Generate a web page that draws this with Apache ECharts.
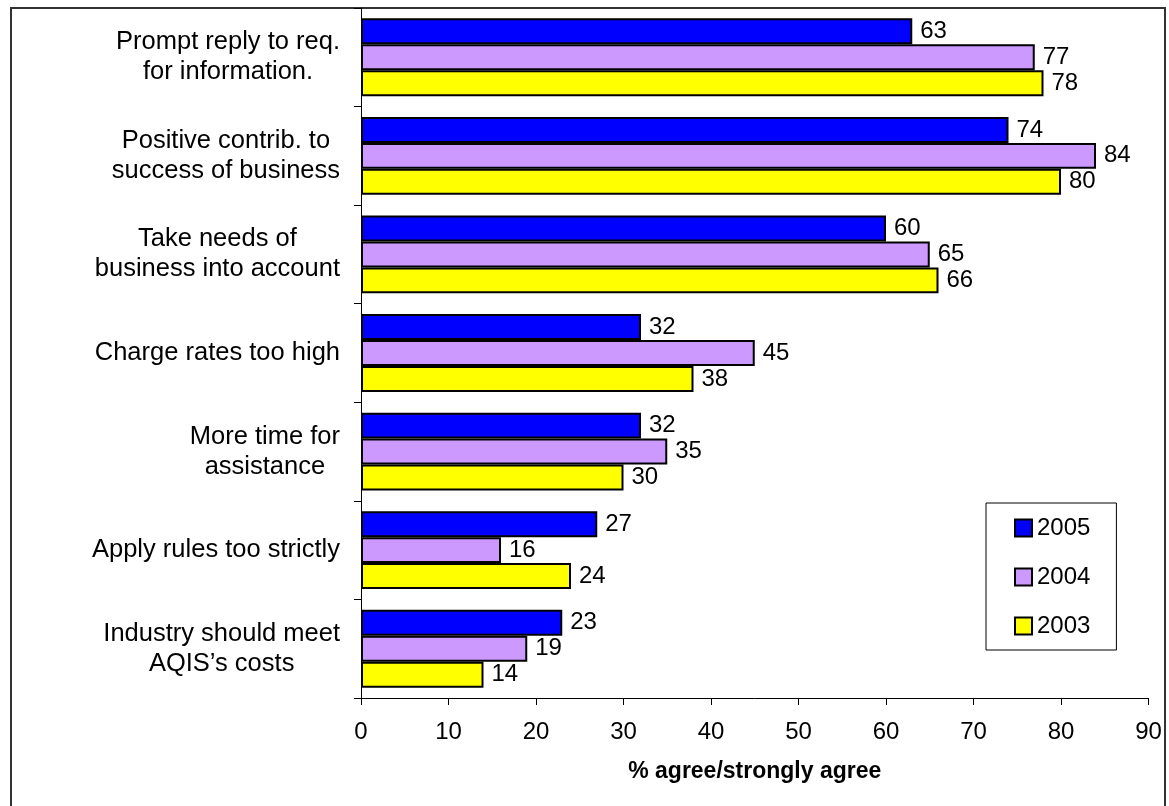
<!DOCTYPE html>
<html>
<head>
<meta charset="utf-8">
<script src="https://cdn.jsdelivr.net/npm/echarts@6/dist/echarts.min.js"></script>
<style>
  html, body { margin: 0; padding: 0; background: #fff; }
  #chart { width: 1169px; height: 806px; }
</style>
</head>
<body>
<div id="chart"></div>
<script>
// Survey statements (top to bottom) and the share agreeing each year
const categories = [
  'Prompt reply to req.\nfor information.',
  'Positive contrib. to\nsuccess of business',
  'Take needs of\nbusiness into account',
  'Charge rates too high',
  'More time for\nassistance',
  'Apply rules too strictly',
  'Industry should meet\nAQIS\u2019s costs'
];
const years = ['2005', '2004', '2003'];
const values2005 = [63, 74, 60, 32, 32, 27, 23];
const values2004 = [77, 84, 65, 45, 35, 16, 19];
const values2003 = [78, 80, 66, 38, 30, 24, 14];
const xTicks = { min: 0, max: 90, interval: 10 };
const xTitle = '% agree/strongly agree';

const colors = ['#0000FF', '#CC99FF', '#FFFF00'];
const seriesValues = [values2005, values2004, values2003];
const FONT = '"Liberation Sans", Arial, sans-serif';

const chart = echarts.init(document.getElementById('chart'), null, { renderer: 'canvas' });

const series = years.map((y, i) => ({
  name: y,
  type: 'bar',
  data: seriesValues[i],
  barGap: '0%',
  barCategoryGap: '21%',
  itemStyle: { color: colors[i], borderColor: '#000', borderWidth: 2 },
  label: {
    show: true,
    position: 'right',
    distance: 8,
    color: '#000',
    fontFamily: FONT,
    fontSize: 24,
    formatter: '{c}'
  },
  emphasis: { disabled: true }
}));

chart.setOption({
  animation: false,
  backgroundColor: '#fff',
  textStyle: { fontFamily: FONT },
  // outer frame around the whole figure
  graphic: [{
    type: 'rect',
    shape: { x: 11, y: 8, width: 1154, height: 820 },
    style: { fill: 'none', stroke: '#333', lineWidth: 2 },
    z: 0, silent: true
  }],
  grid: { left: 361, right: 20.5, top: 8, bottom: 108, containLabel: false },
  legend: {
    orient: 'vertical',
    left: 986,
    top: 503,
    data: years,
    icon: 'rect',
    itemWidth: 17,
    itemHeight: 17,
    itemGap: 25,
    itemTextGap: 5,
    padding: [13, 26, 12, 28],
    borderColor: '#000',
    borderWidth: 1,
    backgroundColor: '#fff',
    textStyle: { fontFamily: FONT, fontSize: 24, color: '#000' },
    selectedMode: false
  },
  xAxis: {
    type: 'value',
    min: xTicks.min,
    max: xTicks.max,
    interval: xTicks.interval,
    name: xTitle,
    nameLocation: 'middle',
    nameGap: 62,
    nameTextStyle: { fontFamily: FONT, fontSize: 23, fontWeight: 'bold', color: '#000' },
    axisLine: { show: true, lineStyle: { color: '#000', width: 1 } },
    axisTick: { show: true, inside: false, length: 7, lineStyle: { color: '#000' } },
    axisLabel: { margin: 22, fontFamily: FONT, fontSize: 24, color: '#000' },
    splitLine: { show: false }
  },
  yAxis: {
    type: 'category',
    inverse: true,
    data: categories,
    axisLine: { show: true, lineStyle: { color: '#000', width: 1 } },
    axisTick: { show: true, inside: false, length: 7, alignWithLabel: false, lineStyle: { color: '#000' } },
    axisLabel: {
      margin: 21,
      align: 'right',
      color: '#000',
      fontFamily: FONT,
      fontSize: 25.5,
      lineHeight: 30,
      // each line is centred inside the right-aligned label block
      formatter: v => v.split('\n').map(l => '{c|' + l + '}').join('\n'),
      rich: { c: { align: 'center', fontFamily: FONT, fontSize: 25.5, lineHeight: 30, color: '#000' } }
    },
    splitLine: { show: false }
  },
  series: series
});
</script>
</body>
</html>
